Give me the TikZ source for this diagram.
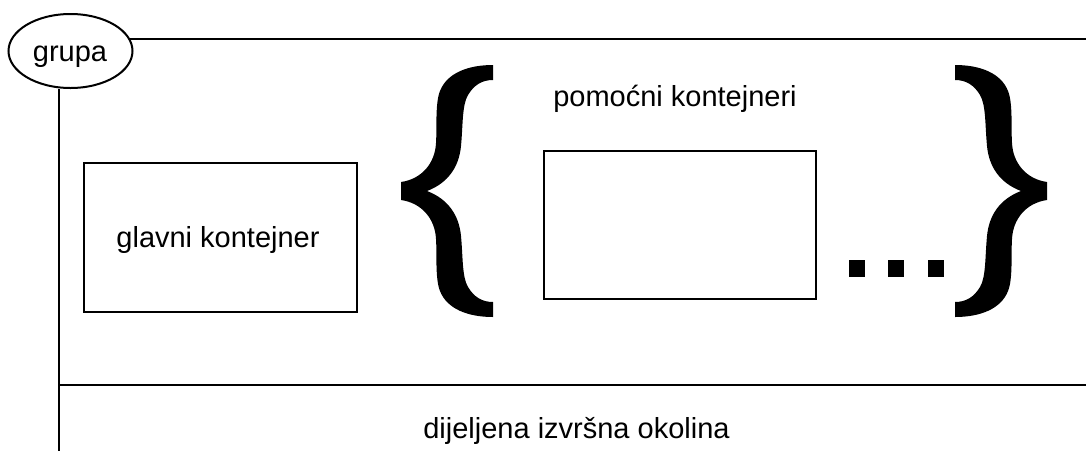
\documentclass[tikz,border=0pt]{standalone}
\usepackage{fontspec}
\setmainfont{Liberation Sans}
\usetikzlibrary{shapes.geometric}
\newcommand\mybracepath{%
  (27,0) .. controls (48,-8) and (59,-24) .. (61,-45)
  .. controls (63,-66) and (62,-86) .. (68,-96)
  .. controls (74,-106) and (82,-111) .. (93,-111)
  -- (93,-126)
  .. controls (68,-126) and (47,-118) .. (40,-100)
  .. controls (35,-88) and (37,-62) .. (36,-48)
  .. controls (35,-28) and (22,-12) .. (1,-9)
  -- (1,9)
  .. controls (22,12) and (35,28) .. (36,48)
  .. controls (37,62) and (35,88) .. (40,100)
  .. controls (47,118) and (68,126) .. (93,126)
  -- (93,111)
  .. controls (82,111) and (74,106) .. (68,96)
  .. controls (62,86) and (63,66) .. (61,45)
  .. controls (59,24) and (48,8) .. (27,0) -- cycle}
\begin{document}
\begin{tikzpicture}[x=1pt,y=-1pt,
  lbl/.style={font=\fontsize{29}{34}\selectfont, anchor=base, inner sep=0},
  ln/.style={line width=2pt, black},
  cbox/.style={draw, line width=2pt, inner sep=0, anchor=north west},
  bracefill/.style={fill=black, draw=none},
  dotsq/.style={fill=black, draw=none}]
\useasboundingbox (0,0) rectangle (1086,451);
% group ellipse
\node[draw, ellipse, line width=2pt, minimum width=124pt, minimum height=74pt, inner sep=0] (grp) at (70.5,51) {};
\node[lbl] (grpt) at (70,61) {grupa};
\coordinate (tr) at (1086,39);
\coordinate (bl) at (59,451);
\coordinate (ml) at (59,385);
\coordinate (mr) at (1086,385);
\draw[ln] (grp.11.6 |- tr) -- (tr);
\draw[ln] (grp.south -| bl) -- (bl);
\draw[ln] (ml) -- (mr);
% boxes
\node[cbox, minimum width=273pt, minimum height=149pt] (main) at (83,162) {};
\node[lbl] (maint) at (218,247) {glavni kontejner};
\node[cbox, minimum width=272pt, minimum height=148pt] (side) at (543,150) {};
\node[lbl] (sidet) at (675,106) {pomoćni kontejneri};
\node[lbl] (envt) at (576.5,438) {dijeljena izvršna okolina};
% braces
\begin{scope}[shift={(400,191)}]
  \fill[bracefill] \mybracepath;
\end{scope}
\begin{scope}[shift={(1048,191)}, xscale=-1]
  \fill[bracefill] \mybracepath;
\end{scope}
% dots
\fill[dotsq] (849,260) rectangle (865,277);
\fill[dotsq] (888,260) rectangle (904,277);
\fill[dotsq] (928,260) rectangle (944,277);
\end{tikzpicture}
\end{document}
